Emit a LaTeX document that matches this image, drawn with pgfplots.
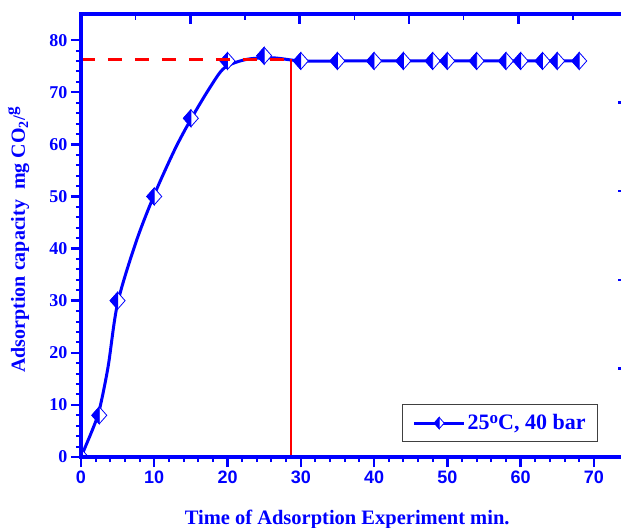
\documentclass[border=0pt]{standalone}
\usepackage{fontspec}
\setmainfont{Liberation Serif}
\newfontfamily\arialfont{Liberation Sans}
\usepackage{pgfplots}
\pgfplotsset{compat=1.18}

\definecolor{oblue}{RGB}{0,0,255}
\definecolor{ored}{RGB}{255,0,0}

% Origin style diamond, left half filled
\pgfdeclareplotmark{halfdiamond}{%
  \pgfpathmoveto{\pgfpoint{0pt}{1.13\pgfplotmarksize}}%
  \pgfpathlineto{\pgfpoint{\pgfplotmarksize}{0pt}}%
  \pgfpathlineto{\pgfpoint{0pt}{-1.13\pgfplotmarksize}}%
  \pgfpathlineto{\pgfpoint{-\pgfplotmarksize}{0pt}}%
  \pgfpathclose
  \pgfsetfillcolor{white}%
  \pgfusepathqfillstroke
  \pgfpathmoveto{\pgfpoint{0pt}{1.13\pgfplotmarksize}}%
  \pgfpathlineto{\pgfpoint{0pt}{-1.13\pgfplotmarksize}}%
  \pgfpathlineto{\pgfpoint{-\pgfplotmarksize}{0pt}}%
  \pgfpathclose
  \pgfsetfillcolor{oblue}%
  \pgfusepathqfillstroke
}

\begin{document}
\begin{tikzpicture}
\begin{axis}[
    width=546.7pt, height=443pt, scale only axis,
    xmin=0, xmax=74.6, ymin=0, ymax=85,
    axis on top,
    clip marker paths=true,
    axis line style={oblue, line width=3.5pt},
    xtick={0,10,...,70}, ytick={0,10,...,80},
    minor x tick num=4, minor y tick num=4,
    xtick pos=left, ytick pos=left,
    tick align=outside,
    major tick length=10pt, minor tick length=5pt,
    major tick style={oblue, line width=2.5pt},
    minor tick style={oblue, line width=2pt},
    /pgf/number format/assume math mode=true,
    xticklabel style={font=\arialfont\bfseries\fontsize{18}{20}\selectfont, text=oblue},
    yticklabel style={font=\bfseries\fontsize{18}{20}\selectfont, text=oblue},
    xlabel={Time of Adsorption Experiment min.},
    xlabel style={at={(axis description cs:0.487,-0.153)}, anchor=base,
        font=\bfseries\fontsize{20.5}{22}\selectfont, text=oblue},
    ylabel={Adsorption capacity~~mg CO\textsubscript{2}{\LARGE/}\raisebox{0.9ex}{\fontsize{17}{17}\selectfont g}},
    ylabel style={at={(axis description cs:-0.114,0.49)}, anchor=center,
        font=\bfseries\fontsize{20}{22}\selectfont, text=oblue},
    legend style={at={(axis description cs:0.946,0.034)}, anchor=south east,
        draw=black!75, line width=1pt, fill=white,
        font=\bfseries\fontsize{22}{24}\selectfont, text=oblue,
        inner xsep=10pt, inner ysep=8pt},
    legend image code/.code={%
        \draw[mark repeat=2, mark phase=2, #1] plot coordinates {(0pt,0pt) (25pt,0pt) (50pt,0pt)};},
]
% fitted curve read off the picture
\addplot[oblue, line width=3pt, smooth, forget plot] coordinates {
    (0,0) (1.5,5) (2.5,9) (3.7,17.3) (5,29.5) (7.5,41.2) (10,50.3)
    (12.8,59) (15,64.8) (17.6,70.9) (19.6,74.7) (22.6,76.3) (26.2,76.6)
    (30,76) (35,76) (40,76) (44,76) (48,76) (50,76) (54,76) (58,76)
    (60,76) (63,76) (65,76) (68,76)
};
% measured points
\addplot[only marks, mark=halfdiamond, mark size=7.5pt,
    mark options={oblue, line width=0.8pt}, forget plot] coordinates {
    (0,0) (2.5,8) (5,30) (10,50) (15,65) (20,76) (25,77) (30,76)
    (35,76) (40,76) (44,76) (48,76) (50,76) (54,76) (58,76)
    (60,76) (63,76) (65,76) (68,76)
};
% plateau guide lines
\addplot[ored, line width=3pt, dash pattern=on 14pt off 13pt, forget plot]
    coordinates {(0,76.3) (28.6,76.3)};
\addplot[ored, line width=2pt, forget plot]
    coordinates {(28.6,0) (28.6,76.3)};

\addlegendimage{oblue, line width=3pt, mark=halfdiamond, mark size=5pt,
    mark options={line width=0.8pt}}
\addlegendentry{25\raisebox{0.6ex}{\fontsize{17}{17}\selectfont o}C, 40 bar}

\coordinate (bbsw) at (axis cs:-11.05,-13.6);
\coordinate (bbne) at (axis cs:73.7,87.7);
\end{axis}

% mirrored ticks on top and right (second scale)
\begin{axis}[
    width=546.7pt, height=443pt, scale only axis,
    xmin=0, xmax=74.6, ymin=0, ymax=85,
    axis line style={draw=none},
    xtick={0,14.92,29.84,44.76,59.68,74.6},
    ytick={0,17,34,51,68,85},
    minor x tick num=1, minor y tick num=1,
    xtick pos=right, ytick pos=right,
    tick align=inside,
    xticklabels={}, yticklabels={},
    major tick length=10pt, minor tick length=6pt,
    major tick style={oblue, line width=2.5pt},
    minor tick style={oblue, line width=1.5pt},
]
\end{axis}

\pgfresetboundingbox
\path[use as bounding box] (bbsw) rectangle (bbne);
\end{tikzpicture}
\end{document}
